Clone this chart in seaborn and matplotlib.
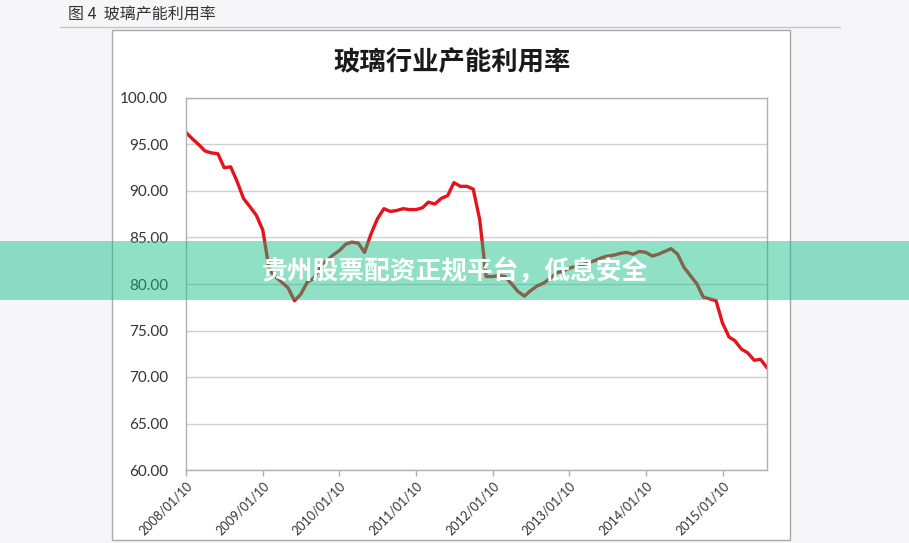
import pandas as pd
import numpy as np
import matplotlib
matplotlib.use('Agg')
import matplotlib.pyplot as plt
from matplotlib.patches import Rectangle
from matplotlib.lines import Line2D
import seaborn as sns

# monthly glass industry capacity utilisation (%)
months = pd.date_range('2008-01-10', periods=92, freq=pd.DateOffset(months=1))
rates = [96.3, 95.6, 95.0, 94.3, 94.1, 94.0, 92.5, 92.6, 91.0, 89.2, 88.3, 87.4,
         85.8, 81.5, 80.8, 80.2, 79.6, 78.2, 78.9, 80.2, 80.6, 81.8, 82.5, 83.1,
         83.6, 84.3, 84.5, 84.4, 83.4, 85.4, 87.0, 88.1, 87.8, 87.9, 88.1, 88.0,
         88.0, 88.2, 88.8, 88.6, 89.2, 89.5, 90.9, 90.5, 90.5, 90.2, 86.9, 80.8,
         80.8, 80.9, 80.8, 80.0, 79.2, 78.7, 79.3, 79.8, 80.1, 80.6, 81.2, 81.4,
         81.7, 81.9, 82.0, 82.3, 82.5, 82.8, 83.0, 83.1, 83.3, 83.4, 83.2, 83.5,
         83.4, 83.0, 83.2, 83.5, 83.8, 83.2, 81.8, 80.9, 80.0, 78.6, 78.4, 78.2,
         75.8, 74.3, 73.9, 73.0, 72.6, 71.8, 71.9, 71.0]
tick_labels = ['2008/01/10', '2009/01/10', '2010/01/10', '2011/01/10',
               '2012/01/10', '2013/01/10', '2014/01/10', '2015/01/10']
y_ticks = [60, 65, 70, 75, 80, 85, 90, 95, 100]

sns.set_theme(style='white')
cjk = ['Noto Sans CJK SC', 'DejaVu Sans']

W, H = 909, 543
fig = plt.figure(figsize=(W / 100, H / 100), dpi=100, facecolor='#f6f6f8')

# white chart frame
fig.add_artist(Rectangle((112 / W, 1 - 540 / H), (790 - 112) / W, (540 - 30) / H,
                         transform=fig.transFigure, facecolor='white',
                         edgecolor='#a9a9a9', lw=1, zorder=-5))
# report header + rule
fig.text(68 / W, 1 - 15 / H, '图 4  玻璃产能利用率', fontsize=11.5,
         family=cjk, color='#333333', va='center')
fig.add_artist(Line2D([60 / W, 840 / W], [1 - 27 / H, 1 - 27 / H],
                      transform=fig.transFigure, color='#c4c4c4', lw=1))
fig.text(452 / W, 1 - 62 / H, '玻璃行业产能利用率', fontsize=19, weight='bold',
         family=cjk, color='#1a1a1a', ha='center', va='center')

ax = fig.add_axes([186 / W, 1 - 470 / H, (767 - 186) / W, (470 - 98) / H])
ax.set_facecolor('white')
sns.lineplot(x=months, y=rates, ax=ax, color='#e3141c', linewidth=2.4)

ax.set_xlim(months[0], months[-1])
ax.set_ylim(60, 100)
ax.set_yticks(y_ticks)
ax.set_yticklabels(['%.2f' % v for v in y_ticks], fontsize=11, family='Lato',
                   color='#333333')
ax.set_xticks(pd.to_datetime([s.replace('/', '-') for s in tick_labels]))
ax.set_xticklabels(tick_labels, rotation=45, ha='right', rotation_mode='anchor',
                   fontsize=9, family='Lato', color='#333333')
ax.tick_params(axis='y', length=0, pad=13)
ax.tick_params(axis='x', length=4, width=1, color='#b0b0b0', pad=3, bottom=True)
ax.grid(axis='y', color='#cfcfcf', lw=1)
ax.set_axisbelow(True)
for s in ax.spines.values():
    s.set_color('#b0b0b0')
    s.set_linewidth(1)
ax.set_xlabel('')
ax.set_ylabel('')

# translucent promo banner across the chart
fig.add_artist(Rectangle((0, 1 - 300 / H), 1, 59 / H, transform=fig.transFigure,
                         facecolor=(20 / 255, 190 / 255, 135 / 255), alpha=0.47,
                         edgecolor='none', zorder=10))
fig.text(455 / W, 1 - 272 / H, '贵州股票配资正规平台，低息安全', fontsize=18.5,
         weight='bold', family=cjk, color='white', ha='center', va='center',
         zorder=11)

fig.savefig('out.png', dpi=100, facecolor=fig.get_facecolor())
